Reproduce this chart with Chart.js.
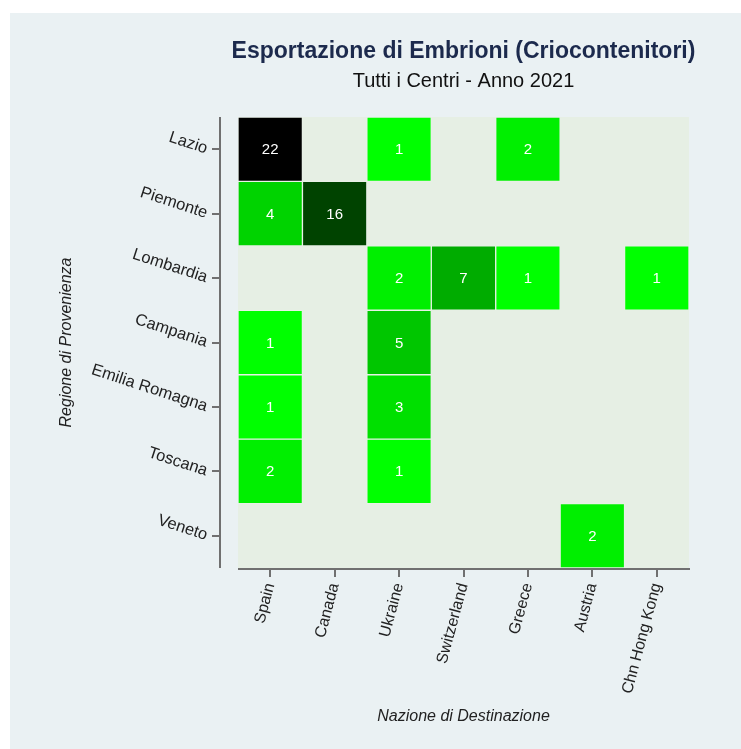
<!DOCTYPE html>
<html><head><meta charset="utf-8">
<script src="https://cdn.jsdelivr.net/npm/chart.js@4/dist/chart.umd.min.js"></script>
<style>html,body{margin:0;padding:0;background:#fff;overflow:hidden}#wrap{width:741px;height:749px;position:relative}</style>
</head><body><div id="wrap"><canvas id="c" width="741" height="749"></canvas></div>
<script>
const titleText = 'Esportazione di Embrioni (Criocontenitori)';
const subtitleText = 'Tutti i Centri - Anno 2021';
const xTitle = 'Nazione di Destinazione';
const yTitle = 'Regione di Provenienza';
const countries = ['Spain','Canada','Ukraine','Switzerland','Greece','Austria','Chn Hong Kong'];
const regions = ['Lazio','Piemonte','Lombardia','Campania','Emilia Romagna','Toscana','Veneto'];
const lazio     = [22, null, 1, null, 2, null, null];
const piemonte  = [4, 16, null, null, null, null, null];
const lombardia = [null, null, 2, 7, 1, null, 1];
const campania  = [1, null, 5, null, null, null, null];
const emilia    = [1, null, 3, null, null, null, null];
const toscana   = [2, null, 1, null, null, null, null];
const veneto    = [null, null, null, null, null, 2, null];
const rows = [lazio, piemonte, lombardia, campania, emilia, toscana, veneto];

const FONT = "'Liberation Sans', Arial, sans-serif";
const maxV = 22;
function cellColor(v){
  const t = Math.pow((v-1)/(maxV-1), 0.9);
  const g = Math.round(255*(1-t));
  return 'rgb(0,'+g+',0)';
}

const datasets = rows.map((vals, i) => ({
  label: regions[i],
  values: vals,
  data: vals.map(v => (v ? [i-0.5, i+0.5] : null)),
  backgroundColor: vals.map(v => (v ? cellColor(v) : 'rgba(0,0,0,0)')),
  borderColor: 'rgba(255,255,255,0.14)',
  borderWidth: 1,
  borderSkipped: false,
  grouped: false,
  barPercentage: 1,
  categoryPercentage: 1
}));

const deco = {
  id: 'deco',
  beforeDraw(chart){
    const ctx = chart.ctx, a = chart.chartArea;
    ctx.save();
    ctx.fillStyle = '#ffffff';
    ctx.fillRect(0,0,chart.width,chart.height);
    ctx.fillStyle = '#eaf1f3';
    ctx.fillRect(10,13,chart.width-10,chart.height-13);
    ctx.fillStyle = '#e6efe4';
    ctx.fillRect(a.left, a.top, a.right-a.left, a.bottom-a.top);
    const cx = (a.left+a.right)/2;
    ctx.textAlign = 'center';
    ctx.textBaseline = 'middle';
    ctx.fillStyle = '#1c2a4d';
    ctx.font = 'bold 23px ' + FONT;
    ctx.fillText(titleText, cx, 52);
    ctx.fillStyle = '#111111';
    ctx.font = '20px ' + FONT;
    ctx.fillText(subtitleText, cx, 81);
    ctx.restore();
  },
  afterDatasetsDraw(chart){
    const ctx = chart.ctx;
    ctx.save();
    ctx.fillStyle = '#ffffff';
    ctx.font = '15px ' + FONT;
    ctx.textAlign = 'center';
    ctx.textBaseline = 'middle';
    chart.data.datasets.forEach((ds, i) => {
      const meta = chart.getDatasetMeta(i);
      ds.values.forEach((v, j) => {
        if (!v) return;
        const el = meta.data[j];
        ctx.fillText(String(v), el.x, (el.y + el.base)/2 + 1);
      });
    });
    ctx.restore();
  },
  afterDraw(chart){
    const ctx = chart.ctx, a = chart.chartArea;
    const xs = chart.scales.x, ys = chart.scales.y;
    ctx.save();
    ctx.strokeStyle = '#707070';
    ctx.lineWidth = 2;
    const axX = a.left - 18;
    ctx.beginPath();
    ctx.moveTo(axX, a.top); ctx.lineTo(axX, a.bottom);
    ys.ticks.forEach(t => {
      const y = Math.round(ys.getPixelForValue(t.value));
      ctx.moveTo(axX, y); ctx.lineTo(axX-8, y);
    });
    const axY = a.bottom + 1;
    ctx.moveTo(a.left, axY); ctx.lineTo(a.right+1, axY);
    countries.forEach((c, j) => {
      const x = Math.round(xs.getPixelForValue(j));
      ctx.moveTo(x, axY); ctx.lineTo(x, axY+8);
    });
    ctx.stroke();
    ctx.restore();
  }
};

new Chart(document.getElementById('c'), {
  type: 'bar',
  data: { labels: countries, datasets },
  options: {
    responsive: false,
    animation: false,
    events: [],
    layout: { padding: { left: 0, top: 117, right: 52, bottom: 0 } },
    plugins: { legend: { display: false }, tooltip: { enabled: false }, title: { display: false } },
    scales: {
      x: {
        type: 'category',
        offset: true,
        grid: { display: false, drawTicks: false },
        border: { display: false },
        ticks: { color: '#222', font: { family: FONT, size: 16 }, minRotation: 75, maxRotation: 75, padding: 13, autoSkip: false },
        title: { display: true, text: xTitle, color: '#222', font: { family: FONT, size: 16, style: 'italic' }, padding: { top: 0, bottom: 23 } },
        afterFit(s){ s.height = 181; }
      },
      y: {
        type: 'linear',
        min: -0.5, max: 6.5,
        reverse: true,
        grid: { display: false, drawTicks: false },
        border: { display: false },
        afterBuildTicks(s){ s.ticks = regions.map((r, i) => ({ value: i })); },
        ticks: { color: '#222', font: { family: FONT, size: 16.5 }, minRotation: -18, maxRotation: 50, padding: 31,
                 callback: (v) => regions[v] },
        title: { display: true, text: yTitle, color: '#222', font: { family: FONT, size: 16, style: 'italic' }, padding: { top: 57, bottom: 0 } },
        afterFit(s){ s.width = 238; }
      }
    }
  },
  plugins: [deco]
});
</script>
</body></html>
